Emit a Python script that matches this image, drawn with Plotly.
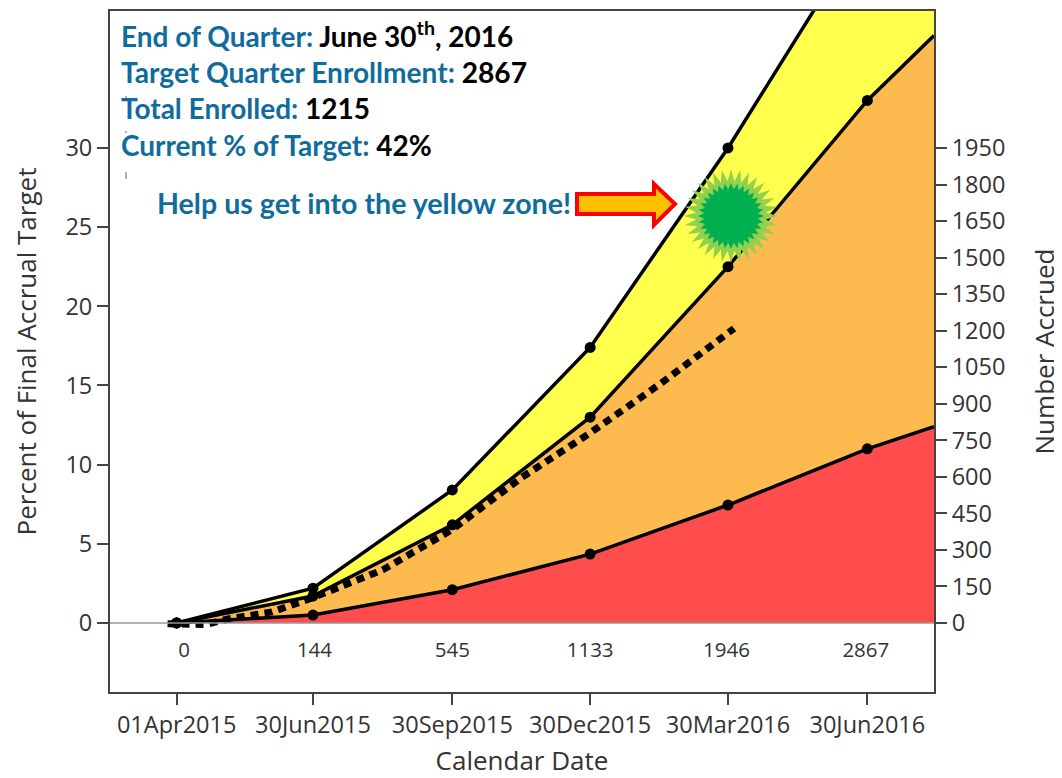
import math
import plotly.graph_objects as go

# Reference pixel geometry; the page adds an 8 px offset in front of the figure.
OFFSET = 8
W, H = 1062 - OFFSET, 778 - OFFSET
L, R, T, B = 110, 934, 11, 692

dates = ["2015-04-01", "2015-06-30", "2015-09-30", "2015-12-30", "2016-03-30", "2016-06-30"]
edge_date = "2016-08-13"
start_date = "2015-02-16"
tick_labels = ["01Apr2015", "30Jun2015", "30Sep2015", "30Dec2015", "30Mar2016", "30Jun2016"]
target_counts = ["0", "144", "545", "1133", "1946", "2867"]
count_label_dates = ["2015-04-06", "2015-07-01", "2015-09-30", "2015-12-30", "2016-03-29", "2016-06-29"]

yellow_top = [0, 2.2, 8.4, 17.4, 30, 44.1, 53]
orange_top = [0, 1.7, 6.2, 13.0, 22.5, 33.0, 37.1]
red_top = [0, 0.5, 2.1, 4.35, 7.45, 11.0, 12.4]

actual_dates = ["2015-03-26", "2015-04-20", "2015-05-05", "2015-06-03", "2015-06-30", "2015-07-25", "2015-08-15",
                "2015-09-30", "2015-11-15", "2015-12-30", "2016-02-15", "2016-04-03"]
actual_pct = [-0.05, -0.1, 0.25, 0.7, 1.6, 2.6, 3.35, 5.9, 9.2, 12.0, 15.15, 18.6]

left_ticks = [0, 5, 10, 15, 20, 25, 30]
right_ticks = [0, 150, 300, 450, 600, 750, 900, 1050, 1200, 1350, 1500, 1650, 1800, 1950]

Y_MIN, Y_MAX = -4.36, 38.65
RATIO = 65
AXIS = "#444444"
TXT = "#333333"
BLUE = "#0F6C9C"
CHART_FONT = "Open Sans"
NOTE_FONT = "Lato"


def px(x):
    return (x - L) / (R - L)


def py(y):
    return (B - y) / (B - T)


fig = go.Figure()
all_x = dates + [edge_date]
for vals, color in [(yellow_top, "#FFFF4D"), (orange_top, "#FDBB4F"), (red_top, "#FF4D4D")]:
    fig.add_trace(go.Scatter(x=all_x, y=vals, mode="lines", fill="tozeroy", fillcolor=color,
                             line=dict(color="black", width=3.5), showlegend=False, hoverinfo="skip"))
for vals in (yellow_top, orange_top, red_top):
    fig.add_trace(go.Scatter(x=dates, y=vals[:6], mode="markers", marker=dict(color="black", size=11),
                             showlegend=False))
fig.add_trace(go.Scatter(x=actual_dates, y=actual_pct, mode="lines",
                         line=dict(color="black", width=7, dash="8px,6px"), showlegend=False))
fig.add_trace(go.Scatter(x=count_label_dates, y=[-1.8] * 6, mode="text", text=target_counts,
                         textfont=dict(family=CHART_FONT, size=20.5, color=TXT), showlegend=False))
# invisible trace that activates the right-hand axis
fig.add_trace(go.Scatter(x=dates, y=[v * RATIO for v in red_top[:6]], yaxis="y2", mode="lines",
                         line=dict(width=0), showlegend=False, hoverinfo="skip"))

fig.add_hline(y=0, line=dict(color="#999999", width=1.5), layer="above")

# burst sticker
cx, cy = 731, 216


def burst(r_out, r_in, n):
    pts = []
    for i in range(2 * n):
        r = r_out if i % 2 == 0 else r_in
        a = math.pi * i / n
        pts.append((px(cx + r * math.cos(a)), py(cy + r * math.sin(a))))
    return "M " + " L ".join(f"{a:.5f},{b:.5f}" for a, b in pts) + " Z"


fig.add_shape(type="path", path=burst(47, 35, 32), xref="paper", yref="paper",
              fillcolor="#92D050", line=dict(width=0), layer="above")
fig.add_shape(type="path", path=burst(33, 27, 32), xref="paper", yref="paper",
              fillcolor="#00B050", line=dict(width=0), layer="above")

arrow = [(577, 194), (654, 194), (654, 184), (675, 204), (654, 225), (654, 214), (577, 214)]
fig.add_shape(type="path", path="M " + " L ".join(f"{px(a):.5f},{py(b):.5f}" for a, b in arrow) + " Z",
              xref="paper", yref="paper", fillcolor="#FFC000", line=dict(color="#FF0000", width=4), layer="above")

# small stray marks in the text box of the reference
for y0, y1 in [(96, 98), (131, 133), (172, 179)]:
    fig.add_shape(type="line", x0=px(126), x1=px(126), y0=py(y0), y1=py(y1), xref="paper", yref="paper",
                  line=dict(color="#666666", width=1), layer="above")

notes = [
    (121, 34, 28, f"<span style='color:{BLUE}'>End of Quarter:</span> June 30<sup>th</sup>, 2016"),
    (121, 72, 28.1, f"<span style='color:{BLUE}'>Target Quarter Enrollment:</span> 2867"),
    (121, 108, 28, f"<span style='color:{BLUE}'>Total Enrolled:</span> 1215"),
    (121, 145, 28, f"<span style='color:{BLUE}'>Current % of Target:</span> 42%"),
    (157, 203, 28.6, f"<span style='color:{BLUE}'>Help us get into the yellow zone!</span>"),
]
for x, y, size, t in notes:
    fig.add_annotation(x=px(x), y=py(y), xref="paper", yref="paper", xanchor="left", yanchor="middle",
                       text=t, showarrow=False, borderpad=0, xshift=-1,
                       font=dict(family=NOTE_FONT, size=size, color="black", weight=700))

fig.update_layout(
    width=W, height=H, paper_bgcolor="white", plot_bgcolor="white",
    margin=dict(l=L - OFFSET, r=W - (R - OFFSET), t=T - OFFSET, b=H - (B - OFFSET), autoexpand=False),
    font=dict(family=CHART_FONT, color=TXT, size=23.5),
    xaxis=dict(type="date", range=[start_date, edge_date], tickmode="array", tickvals=dates, ticktext=tick_labels,
               ticks="outside", ticklen=11, tickwidth=1.5, tickcolor=AXIS, showgrid=False, zeroline=False,
               showline=True, linecolor=AXIS, linewidth=2, mirror=True, automargin=True,
               tickfont=dict(size=23.5, color=TXT),
               title=dict(text="Calendar Date", font=dict(size=26, color=TXT), standoff=19)),
    yaxis=dict(range=[Y_MIN, Y_MAX], tickmode="array", tickvals=left_ticks, ticks="outside", ticklen=11, tickwidth=1.5,
               tickcolor=AXIS, showgrid=False, zeroline=False, showline=True, linecolor=AXIS, linewidth=2,
               automargin=True, tickfont=dict(size=23.5, color=TXT),
               title=dict(text="Percent of Final Accrual Target", font=dict(size=26, color=TXT), standoff=26)),
    yaxis2=dict(range=[Y_MIN * RATIO, Y_MAX * RATIO], overlaying="y", side="right", tickmode="array", tickvals=right_ticks,
                ticks="outside", ticklen=11, tickwidth=1.5, tickcolor=AXIS, showgrid=False, zeroline=False,
                showline=True, linecolor=AXIS, linewidth=2, automargin=True, tickfont=dict(size=23.5, color=TXT),
                title=dict(text="Number Accrued", font=dict(size=26, color=TXT), standoff=31)),
)
fig.write_html("out.html")
